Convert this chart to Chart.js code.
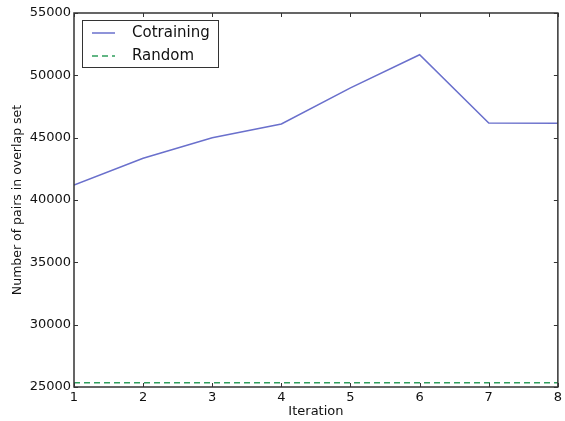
<!DOCTYPE html>
<html lang="en">
<head>
<meta charset="UTF-8">
<title>Overlap pairs</title>
<script src="https://cdn.jsdelivr.net/npm/chart.js@4.4.0/dist/chart.umd.min.js"></script>
<style>
  html, body { margin: 0; padding: 0; background: #fff; }
  #wrap { width: 565px; height: 421px; }
</style>
</head>
<body>
<div id="wrap"><canvas id="myChart" width="565" height="421"></canvas></div>
<script>
    const iterations = [1, 2, 3, 4, 5, 6, 7, 8];
    const cotraining = [41200, 43350, 45000, 46100, 49000, 51650, 46180, 46150];
    const random     = [25350, 25350, 25350, 25350, 25350, 25350, 25350, 25350];
    const yTicks     = [25000, 30000, 35000, 40000, 45000, 50000, 55000];

    const FONT = 'DejaVu Sans';
    const frameColor = '#333333';

    // box round the plot + matplotlib style inward ticks
    const framePlugin = {
        id: 'frame',
        afterDatasetsDraw(chart) {
            const ctx = chart.ctx;
            const a = chart.chartArea;
            const xs = chart.scales.x, ys = chart.scales.y;
            ctx.save();
            ctx.strokeStyle = frameColor;
            ctx.lineWidth = 1.5;
            ctx.strokeRect(a.left, a.top, a.right - a.left, a.bottom - a.top);
            ctx.lineWidth = 1;
            ctx.beginPath();
            iterations.forEach(v => {
                const px = Math.round(xs.getPixelForValue(v)) + 0.5;
                ctx.moveTo(px, a.bottom); ctx.lineTo(px, a.bottom - 4);
                ctx.moveTo(px, a.top); ctx.lineTo(px, a.top + 4);
            });
            yTicks.forEach(v => {
                const py = Math.round(ys.getPixelForValue(v)) + 0.5;
                ctx.moveTo(a.left, py); ctx.lineTo(a.left + 4, py);
                ctx.moveTo(a.right, py); ctx.lineTo(a.right - 4, py);
            });
            ctx.stroke();

            // legend box, upper left
            const bx = a.left + 8, by = a.top + 7, bw = 136, bh = 47;
            ctx.fillStyle = '#fff';
            ctx.fillRect(bx, by, bw, bh);
            ctx.strokeStyle = frameColor;
            ctx.lineWidth = 1;
            ctx.strokeRect(bx + 0.5, by + 0.5, bw, bh);
            ctx.font = '15px "' + FONT + '"';
            ctx.textBaseline = 'middle';
            chart.data.datasets.forEach((ds, i) => {
                const ry = by + 13 + i * 23;
                ctx.strokeStyle = ds.borderColor;
                ctx.lineWidth = ds.borderWidth;
                ctx.setLineDash(ds.borderDash || []);
                ctx.beginPath();
                ctx.moveTo(bx + 10, ry); ctx.lineTo(bx + 33, ry);
                ctx.stroke();
                ctx.setLineDash([]);
                ctx.fillStyle = '#111';
                ctx.fillText(ds.label, bx + 50, ry);
            });
            ctx.restore();
        }
    };

    const ctx = document.getElementById('myChart').getContext('2d');
    const myChart = new Chart(ctx, {
        type: 'line',
        data: {
            labels: iterations,
            datasets: [{
                label: 'Cotraining',
                data: iterations.map((x, i) => ({ x: x, y: cotraining[i] })),
                borderColor: '#6a70cc',
                borderWidth: 1.5,
                pointRadius: 0,
                fill: false,
                tension: 0
            }, {
                label: 'Random',
                data: iterations.map((x, i) => ({ x: x, y: random[i] })),
                borderColor: '#2f9e5c',
                borderWidth: 1.5,
                borderDash: [6, 4],
                pointRadius: 0,
                fill: false,
                tension: 0
            }]
        },
        options: {
            responsive: false,
            animation: false,
            layout: { padding: { left: 0, right: 7, top: 13, bottom: 0 } },
            plugins: {
                legend: { display: false },
                tooltip: { enabled: false }
            },
            scales: {
                x: {
                    type: 'linear',
                    min: 1, max: 8,
                    afterFit(scale) { scale.height = 34; },
                    afterBuildTicks(scale) { scale.ticks = iterations.map(v => ({ value: v })); },
                    grid: { drawOnChartArea: false, drawTicks: false },
                    border: { display: false },
                    ticks: { color: '#111', padding: 3, maxRotation: 0, font: { family: FONT, size: 13 } },
                    title: {
                        display: true, text: 'Iteration', color: '#111',
                        padding: { top: 0, bottom: 2 },
                        font: { family: FONT, size: 13 }
                    }
                },
                y: {
                    min: 25000, max: 55000,
                    afterFit(scale) { scale.width = 74; },
                    afterBuildTicks(scale) { scale.ticks = yTicks.map(v => ({ value: v })); },
                    grid: { drawOnChartArea: false, drawTicks: false },
                    border: { display: false },
                    ticks: {
                        color: '#111', padding: 3, font: { family: FONT, size: 13 },
                        callback: v => String(v)
                    },
                    title: {
                        display: true, text: 'Number of pairs in overlap set', color: '#111',
                        padding: { top: 10, bottom: 0 },
                        font: { family: FONT, size: 12.5 }
                    }
                }
            }
        },
        plugins: [framePlugin]
    });
</script>
</body>
</html>
